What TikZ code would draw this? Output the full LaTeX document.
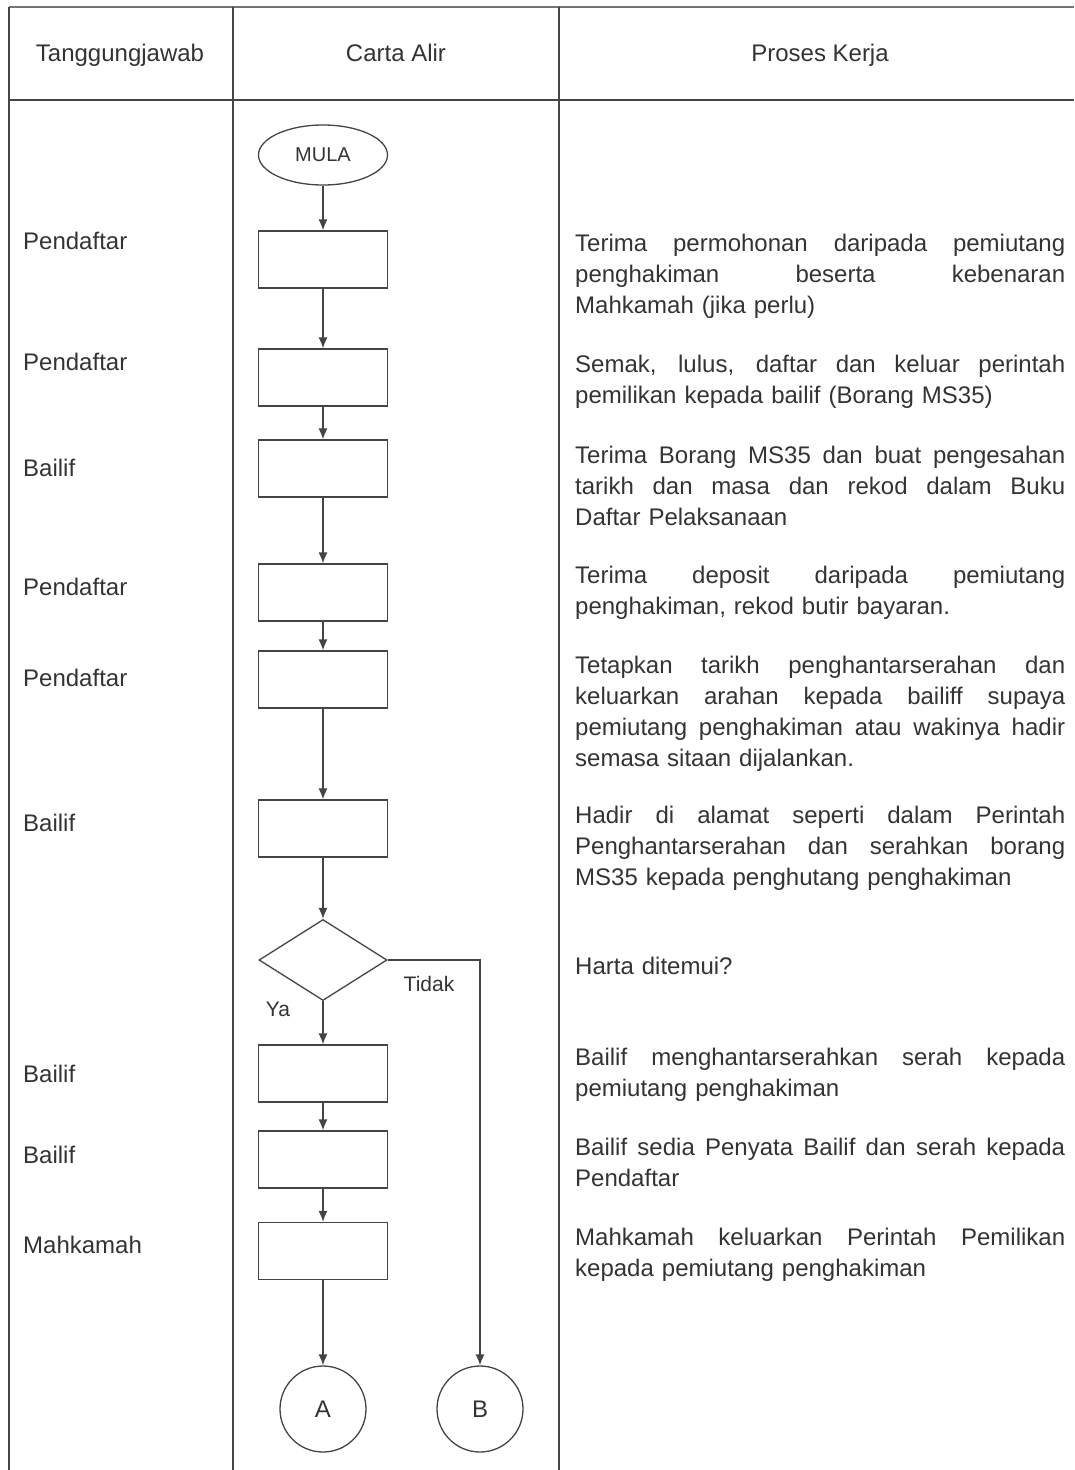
\documentclass[tikz,border=0pt]{standalone}
\usepackage{fontspec}
\setmainfont{Liberation Sans}
\usetikzlibrary{shapes.geometric,arrows.meta}
\definecolor{txt}{HTML}{333333}
\definecolor{ln}{HTML}{444444}
\newcommand\jl[1]{\leavevmode\hbox to 490pt{\spaceskip=\fontdimen2\font plus 1fil\relax #1}}
\begin{document}
\begin{tikzpicture}[x=1pt,y=-1pt,
  lbl/.style={font=\fontsize{24}{31}\selectfont, text=txt, inner sep=0pt, anchor=base west},
  para/.style={lbl, text width=490pt, align=left},
  hdr/.style={font=\fontsize{24}{31}\selectfont, text=txt, inner sep=0pt, anchor=base},
  small/.style={font=\fontsize{21}{25}\selectfont, text=txt, inner sep=0pt, anchor=base},
  pbox/.style={draw=ln, line width=1.3pt, minimum width=129pt, minimum height=57pt, inner sep=0pt},
  arr/.style={draw=ln, line width=1.3pt, -{Latex[length=11pt,width=9pt]}},
  grid/.style={draw=ln, line width=1.5pt}]
\useasboundingbox (0,0) rectangle (1074,1470);
% table
\draw[grid, draw=black!55] (9,7) -- (1074,7);
\draw[grid] (9,100) -- (1074,100);
\draw[grid] (9,7) -- (9,1470);
\draw[grid] (233,7) -- (233,1470);
\draw[grid] (559,7) -- (559,1470);
% headers
\node[hdr] (h1) at (120,61) {Tanggungjawab};
\node[hdr] (h2) at (396,61) {Carta Alir};
\node[hdr] (h3) at (820,61) {Proses Kerja};
% left column
\node[lbl] (l1) at (23,249) {Pendaftar};
\node[lbl] (l2) at (23,370) {Pendaftar};
\node[lbl] (l3) at (23,476) {Bailif};
\node[lbl] (l4) at (23,595) {Pendaftar};
\node[lbl] (l5) at (23,686) {Pendaftar};
\node[lbl] (l6) at (23,831) {Bailif};
\node[lbl] (l7) at (23,1082) {Bailif};
\node[lbl] (l8) at (23,1163) {Bailif};
\node[lbl] (l9) at (23,1253) {Mahkamah};
% flowchart
\node[ellipse, draw=ln, line width=1.3pt, minimum width=129pt, minimum height=60pt, inner sep=0pt,
  font=\fontsize{20}{24}\selectfont, text=txt] (mula) at (323,155) {MULA};
\node[pbox] (b1) at (323,259.5) {};
\node[pbox] (b2) at (323,377.5) {};
\node[pbox] (b3) at (323,468.5) {};
\node[pbox] (b4) at (323,592.5) {};
\node[pbox] (b5) at (323,679.5) {};
\node[pbox] (b6) at (323,828.5) {};
\node[diamond, draw=ln, line width=1.3pt, minimum width=128pt, minimum height=81pt, inner sep=0pt] (d) at (323,960) {};
\node[pbox] (b7) at (323,1073.5) {};
\node[pbox] (b8) at (323,1159.5) {};
\node[pbox] (b9) at (323,1251) {};
\node[circle, draw=ln, line width=1.3pt, minimum size=86pt, inner sep=0pt,
  font=\fontsize{24}{28}\selectfont, text=txt] (A) at (323,1409) {A};
\node[circle, draw=ln, line width=1.3pt, minimum size=86pt, inner sep=0pt,
  font=\fontsize{24}{28}\selectfont, text=txt] (B) at (480,1409) {B};
\draw[arr] (mula) -- (b1);
\draw[arr] (b1) -- (b2);
\draw[arr] (b2) -- (b3);
\draw[arr] (b3) -- (b4);
\draw[arr] (b4) -- (b5);
\draw[arr] (b5) -- (b6);
\draw[arr] (b6) -- (d);
\draw[arr] (d) -- (b7);
\draw[arr] (b7) -- (b8);
\draw[arr] (b8) -- (b9);
\draw[arr] (b9) -- (A);
\draw[arr] (d.east) -| (B.north);
\node[small] (tidak) at (429,991) {Tidak};
\node[small] (ya) at (278,1016) {Ya};
% right column
\node[para] (p1) at (575,251) {\jl{Terima permohonan daripada pemiutang}\\\jl{penghakiman beserta kebenaran}\\Mahkamah (jika perlu)};
\node[para] (p2) at (575,372) {\jl{Semak, lulus, daftar dan keluar perintah}\\pemilikan kepada bailif (Borang MS35)};
\node[para] (p3) at (575,463) {\jl{Terima Borang MS35 dan buat pengesahan}\\\jl{tarikh dan masa dan rekod dalam Buku}\\Daftar Pelaksanaan};
\node[para] (p4) at (575,583) {\jl{Terima deposit daripada pemiutang}\\penghakiman, rekod butir bayaran.};
\node[para] (p5) at (575,673) {\jl{Tetapkan tarikh penghantarserahan dan}\\\jl{keluarkan arahan kepada bailiff supaya}\\\jl{pemiutang penghakiman atau wakinya hadir}\\semasa sitaan dijalankan.};
\node[para] (p6) at (575,823) {\jl{Hadir di alamat seperti dalam Perintah}\\\jl{Penghantarserahan dan serahkan borang}\\MS35 kepada penghutang penghakiman};
\node[para] (p7) at (575,974) {Harta ditemui?};
\node[para] (p8) at (575,1065) {\jl{Bailif menghantarserahkan serah kepada}\\pemiutang penghakiman};
\node[para] (p9) at (575,1155) {\jl{Bailif sedia Penyata Bailif dan serah kepada}\\Pendaftar};
\node[para] (p10) at (575,1245) {\jl{Mahkamah keluarkan Perintah Pemilikan}\\kepada pemiutang penghakiman};
\end{tikzpicture}
\end{document}
